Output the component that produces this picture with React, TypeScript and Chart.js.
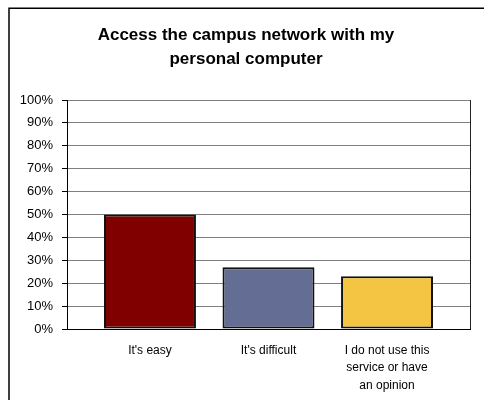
import React, { useEffect, useRef } from 'react';
import { Chart, registerables } from 'chart.js';

Chart.register(...registerables);

const titleLines: string[] = ['Access the campus network with my', 'personal computer'];
const categories: (string | string[])[] = [
  "It's easy",
  "It's difficult",
  ['I do not use this', 'service or have', 'an opinion'],
];
const values: number[] = [50, 27, 23];
const barColors: string[] = ['#800000', '#646E94', '#F4C542'];

const FONT = '"Liberation Sans", Arial, Helvetica, sans-serif';

const decor = {
  id: 'decor',
  beforeDraw(chart: any) {
    const ctx = chart.ctx;
    ctx.save();
    ctx.fillStyle = '#ffffff';
    ctx.fillRect(0, 0, chart.width, chart.height);
    ctx.restore();
  },
  afterDraw(chart: any) {
    const { ctx, chartArea } = chart;
    ctx.save();
    // outer frame (left and top visible)
    ctx.strokeStyle = '#000';
    ctx.lineWidth = 1.5;
    ctx.beginPath();
    ctx.moveTo(9, chart.height);
    ctx.lineTo(9, 8.25);
    ctx.lineTo(chart.width, 8.25);
    ctx.stroke();
    // right border of plot area
    ctx.lineWidth = 1;
    ctx.strokeStyle = '#222';
    const rx = Math.round(chartArea.right) + 0.5;
    ctx.beginPath();
    ctx.moveTo(rx, chartArea.top);
    ctx.lineTo(rx, chartArea.bottom);
    ctx.stroke();
    // title
    ctx.fillStyle = '#000';
    ctx.font = `bold 17px ${FONT}`;
    ctx.textAlign = 'center';
    ctx.textBaseline = 'middle';
    titleLines.forEach((t, i) => ctx.fillText(t, 246, 35 + i * 24));
    ctx.restore();
  },
};

export default function App() {
  const ref = useRef<HTMLCanvasElement | null>(null);

  useEffect(() => {
    document.body.style.overflow = 'hidden';
    const canvas = ref.current;
    if (!canvas) return;
    const chart = new Chart(canvas, {
      type: 'bar',
      data: {
        datasets: [
          {
            data: values.map((v, i) => ({ x: i, y: v })),
            backgroundColor: barColors,
            borderColor: '#111',
            borderWidth: 2,
            borderSkipped: false,
            barPercentage: 0.776,
            categoryPercentage: 1,
          },
        ],
      },
      options: {
        animation: false,
        responsive: false,
        maintainAspectRatio: false,
        devicePixelRatio: 1,
        layout: { padding: { top: 100, right: 14, bottom: 0, left: 0 } },
        plugins: {
          legend: { display: false },
          title: { display: false },
          tooltip: { enabled: false },
        },
        scales: {
          x: {
            type: 'linear',
            min: -0.7,
            max: 2.7,
            offset: false,
            bounds: 'data',
            grid: { display: false, drawTicks: false, offset: false },
            border: { display: true, color: '#000', width: 1 },
            afterBuildTicks: (scale: any) => {
              scale.ticks = categories.map((_, i) => ({ value: i }));
            },
            afterFit: (scale: any) => {
              scale.height = 71;
            },
            ticks: {
              autoSkip: false,
              maxRotation: 0,
              minRotation: 0,
              padding: 13,
              color: '#000',
              font: { family: FONT, size: 12, lineHeight: 1.45 },
              callback: (_v: any, index: number) => categories[index],
            },
          },
          y: {
            min: 0,
            max: 100,
            grid: { color: '#808080', lineWidth: 1, tickLength: 5, tickColor: '#000' },
            border: { display: true, color: '#000', width: 1 },
            afterFit: (scale: any) => {
              scale.width = 67;
            },
            ticks: {
              stepSize: 10,
              padding: 9,
              color: '#000',
              font: { family: FONT, size: 13 },
              callback: (v: any) => `${v}%`,
            },
          },
        },
      },
      plugins: [decor],
    } as any);
    return () => chart.destroy();
  }, []);

  return (
    <div style={{ position: 'absolute', left: 0, top: 0, width: 484, height: 400 }}>
      <canvas ref={ref} width={484} height={400} style={{ display: 'block', width: 484, height: 400 }} />
    </div>
  );
}
